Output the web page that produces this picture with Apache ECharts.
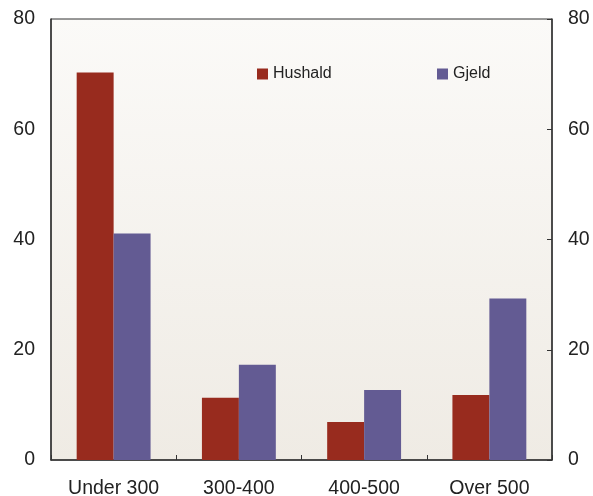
<!DOCTYPE html>
<html><head><meta charset="utf-8">
<script src="https://cdn.jsdelivr.net/npm/echarts@6/dist/echarts.min.js"></script>
<style>html,body{margin:0;padding:0;background:#fff}#c{width:593px;height:496px}</style>
</head><body><div id="c"></div>
<script>
const categories = ['Under 300', '300-400', '400-500', 'Over 500'];
const hushald = [70.3, 11.3, 6.9, 11.8];
const gjeld = [41.1, 17.3, 12.7, 29.3];
const yTicks = [0, 20, 40, 60, 80];

const chart = echarts.init(document.getElementById('c'));
const font = 'Liberation Sans, Arial, sans-serif';
const yAxisBase = {
  type: 'value', min: 0, max: 80, interval: 20,
  axisLine: {show: true, lineStyle: {color: '#333', width: 1.5}},
  axisTick: {show: true, inside: true, length: 5, lineStyle: {color: '#333'}},
  splitLine: {show: false},
  axisLabel: {color: '#222', fontSize: 19.5, fontFamily: font, margin: 16}
};
chart.setOption({
  animation: false,
  grid: {left: 51, right: 41, top: 19, bottom: 36, show: true, borderColor: '#333', borderWidth: 1,
    outerBoundsMode: 'none', containLabel: false,
    backgroundColor: new echarts.graphic.LinearGradient(0, 0, 0, 1, [
      {offset: 0, color: '#fbfaf8'}, {offset: 1, color: '#efebe4'}])},
  legend: [
    {data: ['Hushald'], left: 252, top: 61, itemWidth: 11, itemHeight: 11, itemGap: 4,
     textStyle: {color: '#222', fontSize: 16, fontFamily: font}, icon: 'rect'},
    {data: ['Gjeld'], left: 432, top: 61, itemWidth: 11, itemHeight: 11, itemGap: 4,
     textStyle: {color: '#222', fontSize: 16, fontFamily: font}, icon: 'rect'}
  ],
  xAxis: {
    type: 'category', data: categories,
    axisLine: {show: true, lineStyle: {color: '#333', width: 1.5}},
    axisTick: {show: true, inside: true, length: 5, lineStyle: {color: '#333'}},
    axisLabel: {color: '#222', fontSize: 19.5, fontFamily: font, margin: 19}
  },
  yAxis: [
    Object.assign({}, yAxisBase, {position: 'left', axisTick: {show: false}}),
    Object.assign({}, yAxisBase, {position: 'right'})
  ],
  series: [
    {name: 'Hushald', type: 'bar', data: hushald, barGap: '0%', barCategoryGap: '41%',
     itemStyle: {color: '#982b1e'}},
    {name: 'Gjeld', type: 'bar', data: gjeld, itemStyle: {color: '#635b93'}}
  ]
});
</script></body></html>
